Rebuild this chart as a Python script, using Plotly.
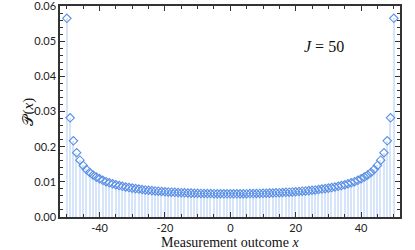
import plotly.graph_objects as go

x_vals = list(range(-50, 51))
half = [0.00660, 0.00660, 0.00660, 0.00661, 0.00662, 0.00663, 0.00665, 0.00666, 0.00668, 0.00671,
        0.00673, 0.00676, 0.00679, 0.00683, 0.00687, 0.00691, 0.00696, 0.00701, 0.00707, 0.00713,
        0.00719, 0.00726, 0.00734, 0.00742, 0.00750, 0.00760, 0.00770, 0.00782, 0.00794, 0.00807,
        0.00821, 0.00837, 0.00854, 0.00873, 0.00894, 0.00917, 0.00943, 0.00972, 0.01005, 0.01042,
        0.01085, 0.01135, 0.01194, 0.01265, 0.01353, 0.01466, 0.01615, 0.01828, 0.02165, 0.02821,
        0.05650]
prob = half[::-1] + half[1:]

y_tickvals = [0.00, 0.01, 0.02, 0.03, 0.04, 0.05, 0.06]
y_ticktext = ["0.00", "0.01", "00.2", "0.03", "0.04", "0.05", "0.06"]
x_tickvals = [-40, -20, 0, 20, 40]
x_ticktext = ["-40", "-20", "0", "20", "40"]

marker_color = "#5a8fe6"
stem_color = "#d6e5fa"
axis_color = "#333333"
serif = "Liberation Serif, DejaVu Serif, serif"
sans = "Lato, Open Sans, sans-serif"

fig = go.Figure()
fig.add_trace(go.Bar(x=x_vals, y=prob, width=0.45, marker=dict(color=stem_color, line=dict(width=0)),
                     hoverinfo="skip"))
fig.add_trace(go.Scatter(x=x_vals, y=prob, mode="markers",
                         marker=dict(symbol="diamond-open", size=6.5, color=marker_color,
                                     line=dict(width=1.1, color=marker_color))))

axis_common = dict(showline=True, linecolor=axis_color, linewidth=1.5, mirror="allticks",
                   ticks="inside", tickcolor=axis_color, tickwidth=1, ticklen=5,
                   showgrid=False, zeroline=False, automargin=False, ticklabeloverflow="allow",
                   tickfont=dict(family=sans, size=11, color="#222"))

fig.update_xaxes(range=[-52.1, 51.9], tickvals=x_tickvals, ticktext=x_ticktext,
                 minor=dict(dtick=5, tick0=0, ticks="inside", ticklen=3, tickcolor=axis_color, showgrid=False),
                 **axis_common)
fig.update_yaxes(range=[0, 0.06], tickvals=y_tickvals, ticktext=y_ticktext,
                 minor=dict(dtick=0.002, tick0=0, ticks="inside", ticklen=3, tickcolor=axis_color, showgrid=False),
                 **axis_common)

fig.add_annotation(x=0.5, y=-0.12, xref="paper", yref="paper", yanchor="middle",
                   text="Measurement outcome <i>x</i>", showarrow=False,
                   font=dict(family=serif, size=14, color="#111"))
fig.add_annotation(x=-0.125, y=0.5, xref="paper", yref="paper", textangle=-90,
                   text="𝒫(<i>x</i>)", showarrow=False,
                   font=dict(family=serif, size=15, color="#111"))
fig.add_annotation(x=0.84, y=0.86, xref="paper", yref="paper", text="<i>J</i> = 50", showarrow=False,
                   font=dict(family=serif, size=16, color="#111"))

fig.update_layout(width=415, height=250, margin=dict(l=60, r=15, t=6, b=33, autoexpand=False),
                  paper_bgcolor="white", plot_bgcolor="white", showlegend=False, bargap=0)

fig.write_html("out.html", config={"displayModeBar": False},
               post_script="document.body.style.margin='0';document.body.style.overflow='hidden';")
